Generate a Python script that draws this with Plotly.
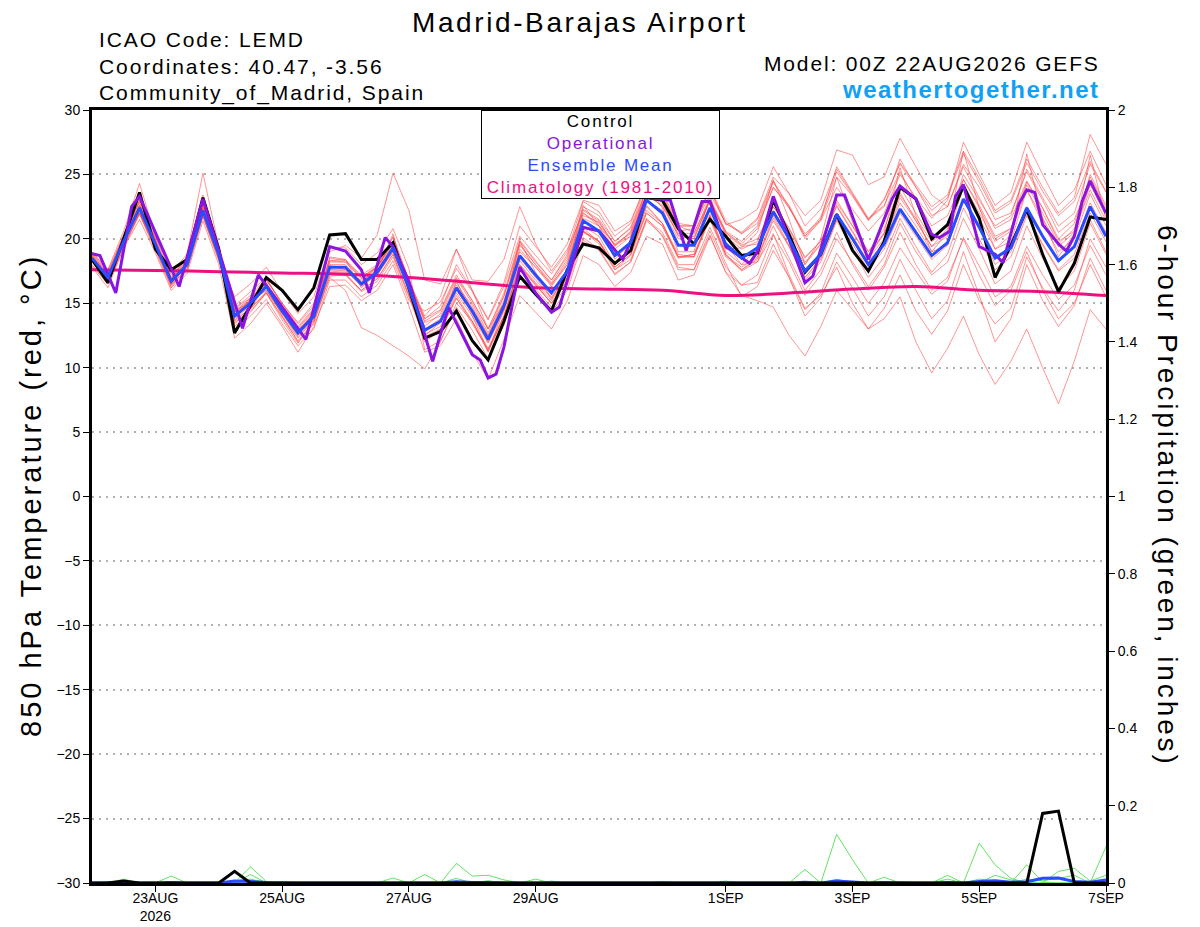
import pandas as pd
import plotly.graph_objects as go

# ---- data (00Z 22AUG2026 GEFS, 6-hourly) ----
start = pd.Timestamp('2026-08-22 00:00')
times = pd.date_range(start, periods=65, freq='6h')

control_t = [18.4, 16.6, 20.0, 23.6, 19.2, 17.6, 18.4, 23.2, 19.2, 12.7,
             14.8, 17.0, 16.0, 14.5, 16.2, 20.3, 20.4, 18.4, 18.4, 19.7,
             16.2, 12.3, 12.8, 14.4, 12.1, 10.6, 13.6, 17.1, 15.7, 14.4,
             17.6, 19.6, 19.3, 18.1, 19.1, 23.2, 23.0, 20.8, 19.6, 21.5,
             20.2, 18.7, 18.9, 23.0, 20.3, 17.4, 18.8, 21.9, 19.1, 17.5,
             19.8, 24.0, 23.1, 20.0, 21.1, 24.1, 21.6, 17.0, 19.5, 22.3,
             18.8, 15.9, 18.1, 21.7, 21.5]

mean_t = [18.5, 17.0, 19.8, 22.4, 19.6, 16.7, 18.0, 22.2, 18.8, 14.0,
          15.0, 16.3, 14.4, 12.7, 14.0, 17.8, 17.8, 16.5, 17.4, 19.3,
          16.2, 12.9, 13.6, 16.2, 14.4, 12.2, 14.8, 18.7, 17.2, 15.8,
          17.5, 21.4, 20.6, 18.7, 19.7, 23.0, 22.0, 19.5, 19.5, 22.4,
          19.6, 18.5, 19.3, 22.1, 20.0, 17.5, 18.8, 21.9, 20.0, 18.0,
          19.6, 22.3, 20.5, 18.7, 19.7, 23.1, 20.9, 18.5, 19.3, 22.4,
          20.2, 18.3, 19.4, 22.5, 20.2]

# operational run, vertices (forecast hour, degC)
op_hours = [0, 3, 9, 15, 18, 33, 42, 57, 63, 81, 90, 96, 102, 105, 111, 114, 120,
            129, 135, 144, 147, 150, 153, 156, 162, 168, 174, 177, 186, 192, 201,
            204, 210, 219, 225, 231, 234, 240, 249, 252, 258, 270, 273, 282, 285,
            294, 303, 306, 312, 318, 321, 325, 327, 330, 336, 342, 345, 351, 354,
            357, 360, 366, 369, 372, 375, 378, 384]
op_temp = [18.85, 18.7, 15.8, 22.5, 23.3, 16.3, 23.1, 13.05, 17.2, 12.2, 19.4, 19.05, 17.6, 15.8, 20.1, 19.4, 16.7,
           10.5, 14.7, 11.0, 10.6, 9.2, 9.5, 11.6, 17.8, 15.8, 14.3, 14.7, 20.9, 20.6, 18.4,
           19.8, 23.2, 23.0, 19.1, 22.9, 22.9, 19.4, 18.1, 19.0, 23.3, 16.6, 17.1, 23.4, 23.4,
           18.4, 23.1, 24.1, 23.1, 20.35, 20.1, 20.6, 23.3, 24.2, 19.4, 18.8, 18.15, 22.7, 23.8,
           23.6, 21.1, 19.6, 19.05, 20.2, 22.9, 24.5, 22.0]

clim_days = pd.date_range(start, periods=17, freq='D')
clim_t = [17.6, 17.55, 17.45, 17.35, 17.25, 17.0, 16.6, 16.2, 16.1, 16.0,
          15.6, 15.8, 16.1, 16.3, 16.0, 15.9, 15.6]

members_t = [
    [18.8, 17.3, 20.3, 23.0, 20.0, 17.0, 18.5, 23.0, 19.3, 14.6, 15.6, 16.9, 15.0, 13.2, 14.6, 18.5, 18.3, 17.2, 18.0, 20.1, 16.8,
     13.8, 14.5, 17.2, 15.2, 13.0, 15.8, 19.9, 18.3, 16.8, 18.6, 22.5, 21.8, 19.8, 20.9, 24.2, 23.3, 21.0, 21.0, 24.0, 21.4,
     20.4, 21.5, 24.5, 22.5, 20.0, 21.5, 24.8, 23.3, 21.4, 23.0, 25.9, 24.2, 22.5, 23.4, 26.8, 24.7, 22.2, 23.0, 26.2, 24.0, 22.0, 23.2, 28.1, 25.8],
    [18.2, 16.8, 19.5, 22.0, 19.2, 16.4, 17.6, 21.8, 18.4, 13.5, 14.4, 15.8, 13.9, 12.1, 13.4, 17.1, 17.2, 15.9, 16.7, 18.6, 15.5,
     12.2, 12.8, 15.4, 13.6, 11.3, 13.9, 17.6, 16.1, 14.7, 16.4, 20.1, 19.2, 17.3, 18.2, 21.4, 20.3, 17.8, 17.6, 20.3, 17.4,
     15.6, 15.2, 14.7, 12.5, 10.9, 13.2, 16.0, 14.5, 13.0, 13.8, 15.5, 12.0, 9.6, 11.5, 14.0, 11.0, 8.7, 10.5, 13.0, 10.0, 7.2, 10.5, 14.5, 13.0],
    [19.0, 17.5, 20.3, 22.9, 20.1, 17.2, 18.5, 22.7, 19.3, 13.0, 14.0, 15.3, 13.4, 11.7, 13.0, 16.8, 16.8, 15.5, 16.4, 18.3, 15.2,
     14.4, 15.1, 17.7, 15.9, 13.7, 16.3, 20.2, 18.7, 17.3, 19.0, 22.9, 22.1, 20.2, 21.2, 24.5, 23.5, 21.0, 21.0, 23.9, 21.1,
     21.5, 22.3, 25.6, 23.5, 21.0, 22.3, 25.4, 23.5, 21.5, 23.1, 25.8, 24.0, 22.2, 23.2, 26.6, 24.4, 22.0, 22.8, 25.9, 23.7, 21.8, 22.9, 26.0, 23.7],
    [18.0, 16.5, 19.3, 21.9, 19.1, 16.2, 17.5, 21.7, 18.3, 15.5, 16.5, 17.8, 15.9, 14.2, 15.5, 19.3, 19.3, 18.0, 18.9, 20.8, 17.7,
     11.4, 12.1, 14.7, 12.9, 10.7, 13.3, 17.2, 15.7, 14.3, 16.0, 19.9, 19.1, 17.2, 18.2, 21.5, 20.5, 18.0, 18.0, 20.9, 18.1,
     15.5, 16.3, 19.1, 17.0, 14.5, 15.8, 18.9, 17.0, 15.0, 16.6, 19.3, 17.5, 15.7, 16.7, 20.1, 17.9, 15.5, 16.3, 19.4, 17.2, 15.3, 16.4, 19.5, 17.2],
    [18.7, 16.6, 20.3, 23.3, 19.8, 16.2, 18.2, 23.4, 19.0, 13.4, 14.5, 16.6, 14.0, 12.0, 13.6, 18.6, 18.4, 16.2, 17.4, 20.4, 15.8,
     12.0, 12.9, 16.8, 14.0, 11.3, 14.5, 19.8, 17.4, 15.3, 17.6, 22.6, 21.0, 18.4, 19.6, 24.2, 22.4, 19.0, 19.0, 23.4, 19.2,
     19.3, 20.5, 24.6, 21.5, 18.0, 20.0, 24.8, 21.3, 18.6, 20.5, 25.5, 21.8, 19.0, 20.5, 26.8, 22.4, 19.2, 20.3, 26.6, 21.6, 18.6, 20.4, 26.5, 21.5],
    [18.6, 17.2, 20.0, 22.6, 19.8, 17.0, 18.3, 22.5, 19.2, 14.3, 15.2, 16.8, 15.0, 13.5, 15.0, 19.0, 19.5, 18.5, 20.3, 25.1, 22.2,
     16.8, 16.5, 19.2, 16.0, 13.0, 15.0, 19.0, 17.8, 16.5, 18.0, 22.0, 21.2, 19.5, 20.5, 23.5, 22.5, 20.3, 20.0, 23.0, 20.5,
     19.5, 20.0, 22.5, 20.8, 18.5, 19.8, 22.5, 20.5, 18.5, 20.0, 22.8, 21.0, 19.0, 19.5, 23.0, 21.0, 18.0, 19.0, 22.0, 19.5, 17.5, 18.5, 21.5, 19.0],
    [18.3, 16.9, 19.6, 22.1, 19.4, 16.6, 17.8, 21.9, 18.5, 13.7, 14.6, 15.9, 14.2, 12.4, 13.7, 17.0, 16.0, 13.1, 12.5, 11.7, 10.9,
     9.9, 12.0, 15.0, 13.6, 11.2, 14.0, 17.8, 16.4, 15.0, 16.8, 20.5, 19.8, 18.0, 19.0, 22.0, 21.0, 18.5, 18.8, 21.6, 18.8,
     17.5, 18.2, 21.0, 18.5, 16.0, 17.6, 20.5, 18.0, 16.0, 17.8, 20.5, 18.0, 16.0, 17.0, 20.0, 17.2, 14.8, 16.0, 19.0, 16.0, 13.8, 15.0, 18.0, 15.5],
    [18.9, 17.4, 20.1, 22.0, 19.3, 16.9, 18.6, 22.6, 19.5, 14.8, 15.9, 17.0, 14.8, 13.1, 14.5, 18.3, 18.2, 17.0, 17.9, 19.8, 16.8,
     13.5, 14.0, 16.6, 14.6, 12.5, 15.0, 19.5, 18.0, 16.4, 18.2, 21.8, 21.3, 19.5, 20.2, 23.6, 23.0, 21.0, 20.5, 23.0, 20.5,
     19.6, 20.8, 24.0, 22.6, 20.2, 21.7, 25.2, 23.4, 21.5, 22.5, 26.2, 24.0, 21.8, 22.5, 25.8, 24.0, 21.5, 22.0, 25.2, 23.0, 20.5, 21.5, 24.5, 22.0],
    [18.4, 17.0, 19.9, 22.8, 19.9, 16.8, 18.0, 22.4, 18.9, 14.1, 15.3, 16.0, 14.2, 12.5, 13.8, 17.5, 17.4, 16.8, 17.8, 19.8, 16.7,
     13.2, 14.2, 16.9, 15.0, 12.7, 15.5, 19.8, 18.2, 16.8, 18.8, 22.3, 21.5, 19.8, 20.8, 23.8, 23.0, 20.6, 20.8, 23.5, 21.2,
     20.5, 21.6, 24.8, 23.5, 21.8, 23.0, 26.9, 26.5, 24.2, 24.8, 27.8, 25.6, 23.4, 22.5, 25.6, 23.2, 20.8, 21.5, 24.5, 22.4, 19.8, 20.6, 23.8, 21.4],
    [17.8, 16.2, 19.3, 21.5, 18.9, 16.0, 17.3, 21.4, 18.0, 12.3, 13.4, 15.0, 13.2, 11.2, 13.2, 16.3, 16.4, 15.2, 16.0, 18.0, 14.8,
     11.2, 11.7, 13.8, 11.2, 9.1, 12.2, 15.6, 14.3, 13.0, 15.2, 18.7, 18.0, 16.3, 17.4, 20.2, 19.6, 16.8, 17.2, 20.2, 17.4,
     16.4, 17.2, 20.3, 18.2, 15.6, 17.2, 20.0, 18.2, 16.3, 18.0, 21.2, 19.0, 17.2, 18.2, 21.6, 19.2, 16.5, 17.5, 21.0, 18.5, 16.2, 17.5, 21.2, 18.8],
    [18.5, 17.1, 19.8, 22.2, 19.5, 16.5, 18.0, 22.0, 18.6, 13.8, 14.8, 16.2, 14.5, 12.8, 14.3, 17.9, 17.8, 16.7, 17.6, 19.5, 16.0,
     12.5, 13.5, 16.0, 14.2, 12.0, 14.6, 18.5, 17.0, 15.5, 17.2, 21.0, 20.2, 18.0, 19.0, 22.5, 21.2, 18.8, 18.6, 21.8, 18.7,
     17.8, 18.6, 21.8, 19.5, 17.0, 18.4, 21.5, 19.6, 17.6, 19.2, 22.0, 20.2, 18.4, 19.5, 23.0, 20.8, 18.5, 19.3, 22.5, 20.2, 18.2, 19.4, 22.8, 20.5],
    [18.3, 16.8, 19.7, 22.6, 19.7, 16.8, 18.1, 22.3, 18.9, 14.4, 15.4, 16.5, 14.6, 12.9, 14.2, 18.0, 18.0, 16.6, 17.3, 19.0, 16.2,
     13.0, 13.8, 16.4, 14.8, 12.5, 15.2, 19.2, 17.8, 16.3, 18.0, 21.6, 21.0, 19.2, 20.2, 23.4, 22.6, 20.4, 20.4, 23.2, 20.6,
     19.8, 21.0, 24.0, 22.4, 20.2, 21.4, 24.0, 22.3, 20.6, 22.0, 25.0, 23.2, 21.6, 23.0, 27.5, 25.0, 22.6, 23.6, 27.5, 25.0, 22.6, 23.8, 26.8, 24.2],
    [18.6, 17.0, 19.6, 22.3, 19.4, 16.6, 18.1, 22.1, 18.7, 14.0, 15.0, 16.4, 14.3, 12.6, 14.2, 17.6, 17.6, 16.3, 17.2, 19.0, 16.0,
     12.6, 13.2, 15.8, 14.0, 11.9, 14.4, 18.0, 16.6, 15.2, 17.0, 20.8, 19.8, 17.6, 18.7, 22.0, 21.0, 18.6, 18.6, 21.5, 18.6,
     17.6, 18.5, 21.4, 19.4, 17.0, 18.5, 22.0, 20.2, 18.2, 19.8, 23.2, 21.4, 19.4, 20.2, 24.0, 21.6, 19.2, 19.8, 23.8, 21.2, 19.0, 20.0, 23.5, 21.0],
    [18.2, 16.9, 19.9, 22.5, 19.6, 16.9, 18.0, 22.3, 18.8, 14.2, 15.1, 16.3, 14.6, 12.9, 14.1, 17.6, 17.5, 16.4, 17.2, 19.1, 16.3,
     13.0, 13.7, 16.2, 14.3, 12.0, 14.6, 18.3, 16.8, 15.4, 17.0, 20.6, 19.6, 17.6, 18.4, 21.6, 20.2, 17.6, 17.6, 20.6, 17.8,
     16.4, 16.6, 19.6, 17.0, 14.0, 15.4, 18.2, 16.2, 14.0, 15.5, 18.4, 16.0, 13.8, 15.2, 19.0, 15.6, 12.0, 13.8, 18.0, 15.2, 13.2, 14.8, 18.5, 16.0],
    [19.0, 17.6, 20.6, 24.3, 20.2, 17.4, 18.8, 25.1, 19.4, 14.6, 15.4, 16.8, 15.0, 13.4, 14.8, 18.3, 18.4, 17.0, 17.8, 19.6, 16.6,
     13.6, 14.4, 17.0, 15.2, 13.0, 15.6, 19.6, 18.0, 16.6, 18.4, 22.2, 21.4, 19.4, 20.6, 23.8, 22.8, 20.2, 20.0, 23.0, 20.2,
     19.2, 19.8, 22.8, 20.8, 18.6, 19.8, 23.0, 21.0, 19.0, 20.4, 23.4, 21.6, 19.8, 20.6, 24.2, 22.0, 19.8, 20.6, 23.8, 21.6, 19.4, 20.5, 24.2, 21.8],
    [17.9, 16.5, 19.4, 22.0, 19.3, 16.4, 17.7, 21.8, 18.4, 13.6, 14.6, 15.8, 14.0, 12.3, 13.7, 17.4, 17.3, 16.0, 16.9, 18.8, 15.7,
     12.2, 13.0, 15.6, 13.6, 11.5, 14.0, 17.9, 16.5, 15.0, 16.8, 20.6, 19.8, 17.8, 18.8, 22.2, 21.2, 18.6, 18.8, 21.9, 19.0,
     18.0, 19.2, 22.5, 20.6, 18.2, 19.6, 22.6, 20.6, 18.6, 20.4, 23.6, 21.4, 19.4, 20.8, 24.6, 22.4, 20.0, 20.8, 24.2, 22.0, 19.6, 20.8, 25.0, 22.6],
    [18.5, 16.9, 19.9, 22.4, 19.7, 16.8, 18.0, 22.2, 18.8, 14.0, 15.0, 16.3, 14.4, 12.7, 14.0, 17.8, 17.8, 16.5, 17.4, 19.3, 16.2,
     12.9, 13.6, 16.2, 14.4, 12.2, 14.8, 18.7, 17.2, 15.8, 17.5, 21.4, 20.6, 18.7, 19.7, 23.0, 22.0, 19.5, 19.5, 22.4, 19.6,
     18.0, 18.2, 20.4, 17.2, 14.6, 15.6, 17.8, 15.0, 13.0, 14.6, 17.2, 14.4, 12.6, 14.4, 18.0, 15.2, 13.4, 14.6, 18.6, 16.2, 14.4, 16.0, 20.0, 17.8],
    [18.7, 17.2, 20.0, 22.6, 19.8, 16.9, 18.2, 22.5, 19.0, 14.3, 15.3, 16.6, 14.8, 13.0, 14.4, 18.2, 18.2, 16.9, 17.8, 19.7, 16.6,
     13.8, 14.8, 18.0, 16.0, 13.8, 16.6, 21.0, 19.4, 17.8, 19.6, 23.0, 22.6, 20.6, 21.4, 24.2, 23.6, 21.2, 21.0, 23.8, 21.2,
     20.4, 21.2, 24.4, 22.4, 20.4, 21.5, 25.6, 23.6, 21.6, 22.6, 25.2, 23.0, 21.0, 21.8, 24.6, 22.6, 20.2, 20.8, 24.4, 22.4, 20.0, 21.2, 24.8, 22.4],
    [18.4, 16.7, 20.0, 23.0, 19.9, 16.5, 17.9, 22.9, 18.7, 13.2, 14.3, 15.8, 13.7, 11.9, 13.5, 17.3, 17.2, 16.0, 16.9, 18.8, 15.6,
     12.4, 13.0, 15.4, 13.4, 11.4, 14.0, 18.0, 16.4, 15.0, 16.6, 20.6, 19.8, 17.8, 18.8, 22.6, 21.2, 18.6, 18.6, 21.8, 18.8,
     17.6, 18.4, 21.6, 19.4, 16.8, 18.2, 21.4, 19.2, 17.0, 18.6, 21.6, 19.4, 17.4, 18.8, 22.4, 20.0, 17.6, 18.6, 21.8, 19.6, 17.6, 18.8, 22.0, 19.8],
    [18.8, 17.2, 19.5, 22.0, 19.2, 16.9, 18.3, 22.0, 19.0, 14.4, 15.1, 16.0, 14.3, 12.7, 14.2, 17.9, 17.6, 16.6, 17.8, 20.2, 16.8,
     14.0, 15.5, 19.2, 16.8, 16.7, 18.4, 22.5, 19.6, 17.5, 19.2, 22.0, 21.0, 19.6, 20.4, 23.0, 22.2, 20.0, 20.2, 23.0, 20.4,
     19.4, 19.6, 22.2, 20.2, 18.0, 19.6, 22.8, 21.0, 19.0, 20.8, 24.0, 22.0, 20.0, 21.0, 25.0, 23.0, 21.0, 21.8, 25.4, 23.2, 21.0, 22.0, 25.8, 23.6],
]

# 6-hour precipitation (inches)
control_p = [0, 0, 0.005, 0, 0, 0, 0, 0, 0, 0.03, 0, 0, 0, 0, 0, 0, 0, 0, 0, 0,
             0, 0, 0, 0, 0, 0, 0, 0, 0, 0, 0, 0, 0, 0, 0, 0, 0, 0, 0, 0,
             0, 0, 0, 0, 0, 0, 0, 0, 0, 0, 0, 0, 0, 0, 0, 0, 0, 0, 0, 0,
             0.18, 0.186, 0, 0, 0]
mean_p = [0, 0, 0.002, 0, 0, 0.001, 0, 0, 0, 0.005, 0.004, 0.001, 0, 0, 0, 0, 0, 0, 0, 0,
          0, 0.001, 0, 0.003, 0.001, 0.001, 0, 0, 0, 0, 0, 0, 0, 0, 0, 0, 0, 0, 0, 0,
          0, 0, 0, 0, 0, 0.002, 0, 0.005, 0.003, 0, 0.001, 0, 0, 0, 0.001, 0, 0.004, 0.006, 0.002, 0.003,
          0.012, 0.013, 0.004, 0.002, 0.008]
members_p = [
    [0, 0, 0, 0, 0, 0, 0, 0, 0, 0, 0.042, 0.004, 0, 0, 0, 0, 0, 0, 0, 0,
     0, 0, 0, 0.051, 0.018, 0.02, 0.008, 0, 0, 0, 0, 0, 0, 0, 0, 0, 0, 0, 0, 0,
     0, 0, 0, 0, 0, 0, 0, 0.126, 0.06, 0, 0, 0, 0, 0, 0, 0, 0.103, 0.047, 0.012, 0,
     0, 0, 0, 0, 0],
    [0, 0, 0.01, 0, 0, 0.018, 0, 0, 0, 0, 0.022, 0, 0, 0, 0, 0, 0, 0, 0, 0.013,
     0, 0.022, 0, 0, 0, 0, 0, 0, 0, 0, 0, 0, 0, 0, 0, 0, 0, 0, 0, 0,
     0, 0, 0, 0, 0, 0.035, 0, 0, 0, 0, 0.015, 0, 0, 0, 0.02, 0, 0, 0.02, 0.008, 0,
     0, 0.03, 0.038, 0.005, 0.02],
    [0, 0, 0, 0, 0, 0, 0, 0, 0, 0.005, 0.01, 0, 0, 0, 0, 0, 0, 0, 0, 0,
     0, 0, 0, 0, 0, 0, 0, 0, 0.01, 0, 0, 0, 0, 0, 0, 0, 0.004, 0, 0, 0,
     0.005, 0, 0, 0, 0, 0, 0, 0, 0, 0, 0, 0, 0, 0, 0.01, 0, 0, 0, 0, 0.047,
     0.002, 0, 0, 0, 0.094],
    [0, 0.004, 0, 0, 0, 0.004, 0, 0, 0, 0, 0.008, 0.003, 0, 0, 0, 0, 0, 0, 0, 0,
     0, 0, 0, 0.012, 0, 0.006, 0, 0, 0, 0.005, 0, 0, 0, 0, 0, 0, 0, 0, 0, 0,
     0, 0, 0, 0, 0, 0, 0, 0.01, 0, 0, 0, 0, 0, 0, 0, 0, 0.01, 0.006, 0, 0.01,
     0.006, 0.012, 0.02, 0, 0.01],
]

tick_days = ['2026-08-23', '2026-08-25', '2026-08-27', '2026-08-29',
             '2026-09-01', '2026-09-03', '2026-09-05', '2026-09-07']
tick_text = ['23AUG<br>2026', '25AUG', '27AUG', '29AUG', '1SEP', '3SEP', '5SEP', '7SEP']

# ---- figure ----
FONT = 'Liberation Sans, Arial, Helvetica, sans-serif'
RED = 'rgba(255,70,70,0.72)'
GREEN = 'rgba(60,220,60,0.9)'
PURPLE = '#8a14e0'
BLUE = '#2a4cff'
PINK = '#ee0f80'

fig = go.Figure()

for m in members_t:
    fig.add_trace(go.Scatter(x=times, y=m, mode='lines', line=dict(color=RED, width=0.8),
                             showlegend=False, hoverinfo='skip'))

for m in members_p:
    fig.add_trace(go.Scatter(x=times, y=m, mode='lines', line=dict(color=GREEN, width=0.9),
                             yaxis='y2', showlegend=False, hoverinfo='skip'))
fig.add_trace(go.Scatter(x=times, y=mean_p, mode='lines', line=dict(color=BLUE, width=3),
                         yaxis='y2', showlegend=False))
fig.add_trace(go.Scatter(x=times, y=control_p, mode='lines', line=dict(color='black', width=3),
                         yaxis='y2', showlegend=False))

fig.add_trace(go.Scatter(x=clim_days, y=clim_t, mode='lines', line=dict(color=PINK, width=3, shape='spline'),
                         name='Climatology (1981-2010)', showlegend=False))
fig.add_trace(go.Scatter(x=times, y=control_t, mode='lines', line=dict(color='black', width=3),
                         name='Control', showlegend=False))
op_x = start + pd.to_timedelta(op_hours, unit='h')
fig.add_trace(go.Scatter(x=op_x, y=op_temp, mode='lines', line=dict(color=PURPLE, width=3),
                         name='Operational', showlegend=False))
fig.add_trace(go.Scatter(x=times, y=mean_t, mode='lines', line=dict(color=BLUE, width=3),
                         name='Ensemble Mean', showlegend=False))

# the page body has an 8px margin, so the figure is sized to fit the window
fig.update_layout(
    width=1192,
    height=919,
    margin=dict(l=84, r=94, t=102, b=44),
    paper_bgcolor='white',
    plot_bgcolor='white',
    font=dict(family=FONT, color='black'),
    xaxis=dict(
        type='date',
        range=[start, pd.Timestamp('2026-09-07 00:00')],
        tickvals=pd.to_datetime(tick_days),
        ticktext=tick_text,
        ticks='outside',
        ticklen=6,
        tickcolor='black',
        tickfont=dict(size=14),
        ticklabelstandoff=-6,
        showgrid=False,
        zeroline=False,
        showline=True,
        linecolor='black',
        linewidth=3,
        mirror=True,
        automargin=False,
    ),
    yaxis=dict(
        range=[-30, 30],
        dtick=5,
        ticks='outside',
        ticklen=6,
        tickcolor='black',
        tickfont=dict(size=14),
        showgrid=True,
        gridcolor='#b0b0b0',
        griddash='2px,5px',
        gridwidth=1.5,
        zeroline=False,
        showline=True,
        linecolor='black',
        linewidth=3,
        automargin=False,
    ),
    yaxis2=dict(
        overlaying='y',
        side='right',
        range=[0, 2],
        dtick=0.2,
        ticks='outside',
        ticklen=6,
        tickcolor='black',
        tickfont=dict(size=14),
        showgrid=False,
        zeroline=False,
        showline=True,
        linecolor='black',
        linewidth=3,
        automargin=False,
    ),
)


def px(x):
    return (x - 92) / 1014


def py(y):
    return (883 - y) / 773


def spaced(text, ls, color=None):
    style = f'letter-spacing:{ls}px'
    if color:
        style = f'color:{color};' + style
    return f'<span style="{style}">{text}</span>'


notes = [
    dict(text=spaced('Madrid-Barajas Airport', 2.6), x=px(580), y=py(22), size=28, xanchor='center'),
    dict(text=spaced('ICAO Code: LEMD', 1.9), x=px(97), y=py(40), size=21, xanchor='left'),
    dict(text=spaced('Coordinates: 40.47, -3.56', 1.9), x=px(97), y=py(67), size=21, xanchor='left'),
    dict(text=spaced('Community_of_Madrid, Spain', 1.9), x=px(97), y=py(93), size=21, xanchor='left'),
    dict(text=spaced('Model: 00Z 22AUG2026 GEFS', 1.85), x=px(1102), y=py(63), size=21, xanchor='right'),
    dict(text='<b>' + spaced('weathertogether.net', 1.5) + '</b>', x=px(1102), y=py(89), size=24,
         xanchor='right', color='#12a0f5'),
]
for n in notes:
    fig.add_annotation(text=n['text'], x=n['x'], y=n['y'], xref='paper', yref='paper',
                       xanchor=n['xanchor'], yanchor='middle', showarrow=False,
                       font=dict(size=n['size'], family=FONT, color=n.get('color', 'black')))

fig.add_annotation(text=spaced('850 hPa Temperature (red, °C)', 3.0), x=px(31), y=py(496),
                   xref='paper', yref='paper', xanchor='center', yanchor='middle',
                   textangle=-90, showarrow=False, font=dict(size=29, family=FONT))
fig.add_annotation(text=spaced('6-hour Precipitation (green, inches)', 2.9), x=px(1168), y=py(496),
                   xref='paper', yref='paper', xanchor='center', yanchor='middle',
                   textangle=90, showarrow=False, font=dict(size=28, family=FONT))

legend_text = '<br>'.join([
    spaced('Control', 1.8),
    spaced('Operational', 1.8, PURPLE),
    spaced('Ensemble Mean', 1.8, BLUE),
    spaced('Climatology (1981-2010)', 1.8, PINK),
])
fig.add_annotation(text=legend_text, x=px(600), y=py(110), xref='paper', yref='paper',
                   xanchor='center', yanchor='top', showarrow=False, align='center',
                   width=235, height=85, bgcolor='white', bordercolor='black', borderwidth=1,
                   borderpad=1, font=dict(size=17, family=FONT, color='black'))

fig.write_html("out.html")
